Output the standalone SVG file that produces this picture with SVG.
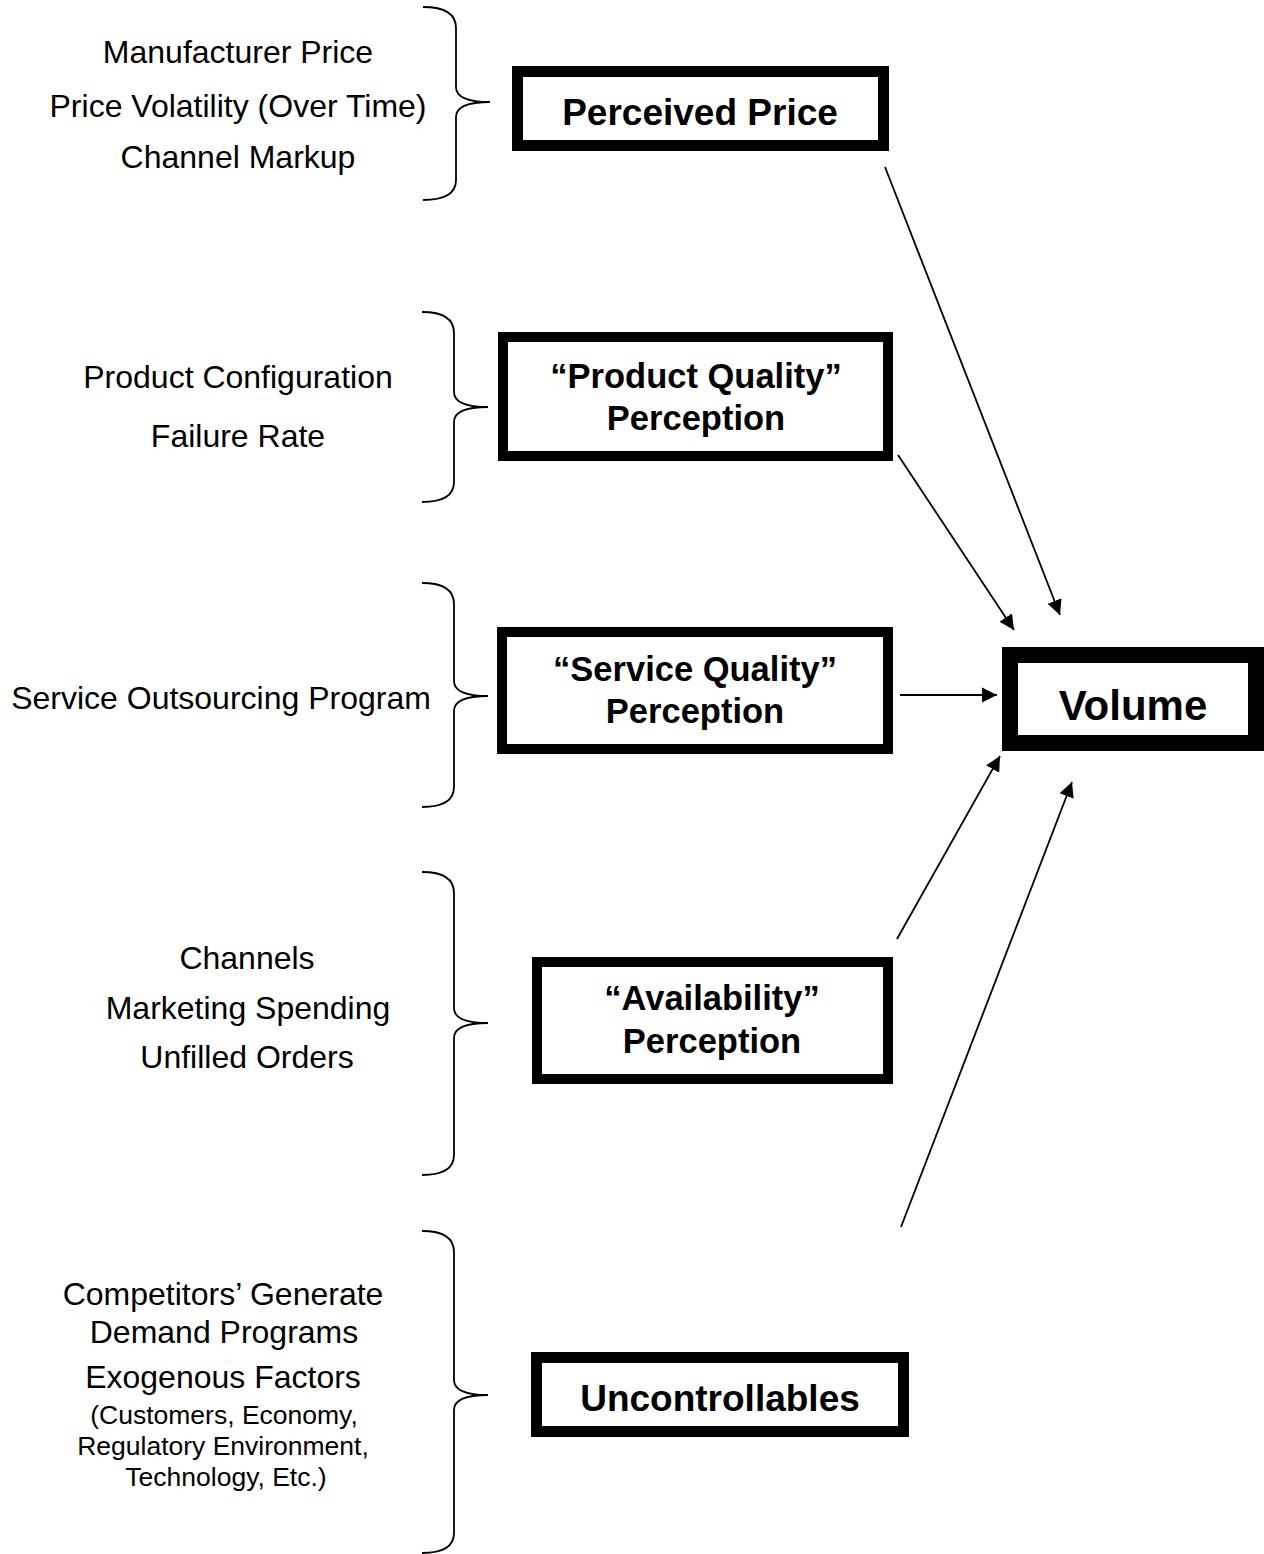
<svg xmlns="http://www.w3.org/2000/svg" width="1264" height="1554" viewBox="0 0 1264 1554">
  <style>
    .box { fill: #ffffff; stroke: #000000; }
    .brace { fill: none; stroke: #000000; stroke-width: 1.8; }
    .edge { fill: none; stroke: #000000; stroke-width: 1.8; marker-end: url(#head); }
    .lbl { font-family: "Liberation Sans", Arial, sans-serif; font-size: 32px; fill: #000000; text-anchor: middle; }
    .small { font-size: 26.5px; }
    .title { font-family: "Liberation Sans", Arial, sans-serif; font-weight: bold; fill: #000000; text-anchor: middle; }
  </style>
  <defs>
    <marker id="head" markerUnits="userSpaceOnUse" markerWidth="16" markerHeight="16" viewBox="0 0 16 16" refX="15" refY="8" orient="auto">
      <path d="M0,0.5 L15,8 L0,15.5 Z" fill="#000000"/>
    </marker>
  </defs>
  <rect width="1264" height="1554" fill="#ffffff"/>

  <!-- input factor lists with their braces -->
  <g id="factors-price">
    <text class="lbl" x="238" y="63">Manufacturer Price</text>
    <text class="lbl" x="238" y="117">Price Volatility (Over Time)</text>
    <text class="lbl" x="238" y="168">Channel Markup</text>
    <path class="brace" d="M423,7 C444,7 456,13 456,28 L456,87 C456,97 468,102 490,102 C468,102 456,107 456,117 L456,180 C456,194 444,200 423,200"/>
  </g>
  <g id="factors-product">
    <text class="lbl" x="238" y="388">Product Configuration</text>
    <text class="lbl" x="238" y="447">Failure Rate</text>
    <path class="brace" d="M422,312 C442,312 454,318 454,333 L454,392 C454,402 466,407 488,407 C466,407 454,412 454,422 L454,482 C454,496 442,502 422,502"/>
  </g>
  <g id="factors-service">
    <text class="lbl" x="221" y="709">Service Outsourcing Program</text>
    <path class="brace" d="M422,583 C442,583 454,589 454,604 L454,681 C454,691 466,696 488,696 C466,696 454,701 454,711 L454,787 C454,801 442,807 422,807"/>
  </g>
  <g id="factors-availability">
    <text class="lbl" x="247" y="969">Channels</text>
    <text class="lbl" x="248" y="1019">Marketing Spending</text>
    <text class="lbl" x="247" y="1068">Unfilled Orders</text>
    <path class="brace" d="M422,872 C442,872 454,878 454,893 L454,1008 C454,1018 466,1023 488,1023 C466,1023 454,1028 454,1038 L454,1155 C454,1169 442,1175 422,1175"/>
  </g>
  <g id="factors-uncontrollable">
    <text class="lbl" x="223" y="1305">Competitors’ Generate</text>
    <text class="lbl" x="224" y="1343">Demand Programs</text>
    <text class="lbl" x="223" y="1388">Exogenous Factors</text>
    <text class="lbl small" x="224" y="1424">(Customers, Economy,</text>
    <text class="lbl small" x="223" y="1455">Regulatory Environment,</text>
    <text class="lbl small" x="226" y="1486">Technology, Etc.)</text>
    <path class="brace" d="M422,1231 C442,1231 454,1237 454,1252 L454,1380 C454,1390 466,1395 488,1395 C466,1395 454,1400 454,1410 L454,1533 C454,1547 442,1553 422,1553"/>
  </g>

  <!-- perception nodes -->
  <g id="perceived-price">
    <rect class="box" x="517.5" y="71.5" width="366" height="74" stroke-width="11"/>
    <text class="title" x="700" y="125" font-size="37">Perceived Price</text>
  </g>
  <g id="product-quality">
    <rect class="box" x="503" y="337" width="385" height="119" stroke-width="10"/>
    <text class="title" x="696" y="388" font-size="34.5">“Product Quality”</text>
    <text class="title" x="696" y="430" font-size="34.5">Perception</text>
  </g>
  <g id="service-quality">
    <rect class="box" x="502" y="632" width="386" height="117" stroke-width="10"/>
    <text class="title" x="695" y="681" font-size="34.5">“Service Quality”</text>
    <text class="title" x="695" y="723" font-size="34.5">Perception</text>
  </g>
  <g id="availability">
    <rect class="box" x="537" y="962" width="351" height="117" stroke-width="10"/>
    <text class="title" x="712" y="1010" font-size="34.5">“Availability”</text>
    <text class="title" x="712" y="1053" font-size="34.5">Perception</text>
  </g>
  <g id="uncontrollables">
    <rect class="box" x="536.5" y="1357.5" width="367" height="74" stroke-width="11"/>
    <text class="title" x="720" y="1411" font-size="37">Uncontrollables</text>
  </g>
  <g id="volume">
    <rect class="box" x="1010" y="655" width="246" height="88" stroke-width="16"/>
    <text class="title" x="1133" y="720" font-size="42">Volume</text>
  </g>

  <!-- influence arrows into Volume -->
  <g id="connectors">
    <line class="edge" x1="885" y1="167" x2="1060" y2="615"/>
    <line class="edge" x1="898" y1="455" x2="1014" y2="630"/>
    <line class="edge" x1="900" y1="695" x2="997" y2="695"/>
    <line class="edge" x1="897" y1="939" x2="1000" y2="756"/>
    <line class="edge" x1="901" y1="1227" x2="1072" y2="782"/>
  </g>
</svg>
